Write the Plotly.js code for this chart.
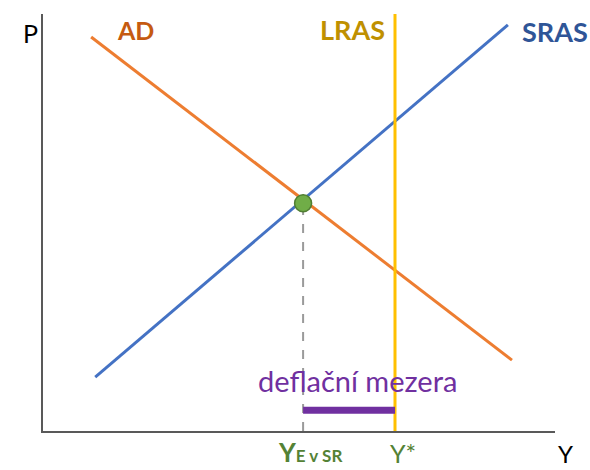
<!DOCTYPE html>
<html><head><meta charset="utf-8">
<script src="https://cdn.plot.ly/plotly-3.0.1.min.js"></script>
<style>html,body{margin:0;padding:0;background:#fff}#c{width:590px;height:470px}</style>
</head><body><div id="c"></div>
<script>
// Schematic AD-AS values (abstract units, 0-10)
const adX = [0.94, 9.16];
const adY = [9.45, 1.70];
const srasX = [1.02, 9.08];
const srasY = [1.29, 9.74];
const lrasX = [6.875, 6.875];
const lrasY = [0, 10];
const eqX = [5.08];
const eqY = [5.46];
const gapX = [5.08, 6.875];
const gapY = [0.5, 0.5];
const dashX = [5.08, 5.08];
const dashY = [0, 5.46];

const F = "Lato, 'Open Sans', sans-serif";
const traces = [
  {x: dashX, y: dashY, mode: 'lines', line: {color: '#9a9a9a', width: 2, dash: 'dash'}, hoverinfo: 'skip'},
  {x: adX, y: adY, mode: 'lines', line: {color: '#ED7D31', width: 3}},
  {x: srasX, y: srasY, mode: 'lines', line: {color: '#4472C4', width: 3}},
  {x: lrasX, y: lrasY, mode: 'lines', line: {color: '#FFC000', width: 3}},
  {x: gapX, y: gapY, mode: 'lines', line: {color: '#7030A0', width: 7}},
  {x: eqX, y: eqY, mode: 'markers', marker: {color: '#70AD47', size: 17, line: {color: '#507E32', width: 1.5}}}
];
const C = {showarrow: false, xanchor: 'center', yanchor: 'middle'};
const layout = {
  width: 590, height: 470,
  margin: {l: 43, r: 35, t: 14, b: 39},
  paper_bgcolor: '#fff', plot_bgcolor: '#fff',
  showlegend: false,
  xaxis: {range: [0, 10], showgrid: false, zeroline: false, showticklabels: false, ticks: '',
          showline: true, linecolor: '#595959', linewidth: 2},
  yaxis: {range: [0, 10], showgrid: false, zeroline: false, showticklabels: false, ticks: '',
          showline: true, linecolor: '#595959', linewidth: 2},
  annotations: [
    Object.assign({xref: 'paper', yref: 'paper', x: -0.025, y: 0.954, text: 'P', font: {family: F, size: 25, color: '#000'}}, C),
    Object.assign({x: 1.80, y: 9.62, text: '<b>AD</b>', font: {family: F, size: 25, color: '#C55A11'}}, C),
    Object.assign({x: 6.04, y: 9.62, text: '<b>LRAS</b>', font: {family: F, size: 27, color: '#BF9000'}}, C),
    Object.assign({x: 10.0, y: 9.57, text: '<b>SRAS</b>', font: {family: F, size: 27, color: '#2F5597'}}, C),
    Object.assign({x: 6.15, y: 1.22, text: 'deflační mezera', font: {family: F, size: 29, color: '#7030A0'}}, C),
    Object.assign({xref: 'paper', yref: 'paper', x: 1.021, y: -0.055, text: 'Y', font: {family: F, size: 24, color: '#000'}}, C),
    Object.assign({xref: 'paper', yref: 'paper', x: 0.703, y: -0.052, text: 'Y*', font: {family: F, size: 25, color: '#548235'}}, C),
    Object.assign({xref: 'paper', yref: 'paper', x: 0.521, y: -0.050, text: "<b>Y<span style='font-size:17px'>E v SR</span></b>", font: {family: F, size: 26, color: '#548235'}}, C)
  ]
};
Plotly.newPlot('c', traces, layout, {displayModeBar: false, staticPlot: true});
</script></body></html>
